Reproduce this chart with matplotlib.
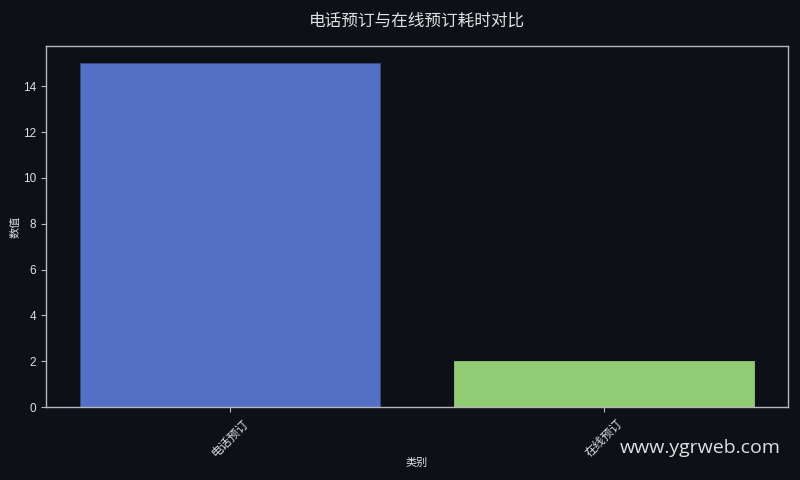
import matplotlib
matplotlib.use("Agg")
import matplotlib.pyplot as plt

plt.rcParams['font.family'] = ['Liberation Sans', 'Noto Sans CJK SC', 'DejaVu Sans']

categories = ["电话预订", "在线预订"]
values = [15, 2]
colors = ["#5470c6", "#91cc75"]
edgecolors = ["#3a4a80", "#91cc75"]
title = "电话预订与在线预订耗时对比"
xlabel = "类别"
ylabel = "数值"
watermark = "www.ygrweb.com"

bg = "#0d1017"
fg = "#e0e0e0"

fig = plt.figure(figsize=(8, 4.8), dpi=100, facecolor=bg)
ax = fig.add_axes([0.0575, 0.152, 0.9275, 0.752])
ax.set_facecolor(bg)

ax.bar(categories, values, color=colors, width=0.8, edgecolor=edgecolors, linewidth=0.6)

ax.set_title(title, color=fg, fontsize=12, pad=15,
             family=['Noto Sans CJK SC', 'DejaVu Sans'])
ax.set_xlabel(xlabel, color=fg, fontsize=8, labelpad=-1,
              family=['Noto Sans CJK SC', 'DejaVu Sans'])
ax.set_ylabel(ylabel, color=fg, fontsize=8, labelpad=2,
              family=['Noto Sans CJK SC', 'DejaVu Sans'])

for s in ax.spines.values():
    s.set_color("#b8b8b8")
    s.set_linewidth(1.0)
ax.tick_params(colors="#b8b8b8", labelcolor=fg, labelsize=8.5)
for lbl in ax.get_xticklabels():
    lbl.set_rotation(45)
    lbl.set_family(['Noto Sans CJK SC', 'DejaVu Sans'])
    lbl.set_fontsize(8.5)

fig.text(0.976, 0.066, watermark, color="#e0e0e0", fontsize=14, ha="right",
         va="center", family=["Open Sans", "DejaVu Sans"])

fig.savefig("out.png", dpi=100, facecolor=bg)
